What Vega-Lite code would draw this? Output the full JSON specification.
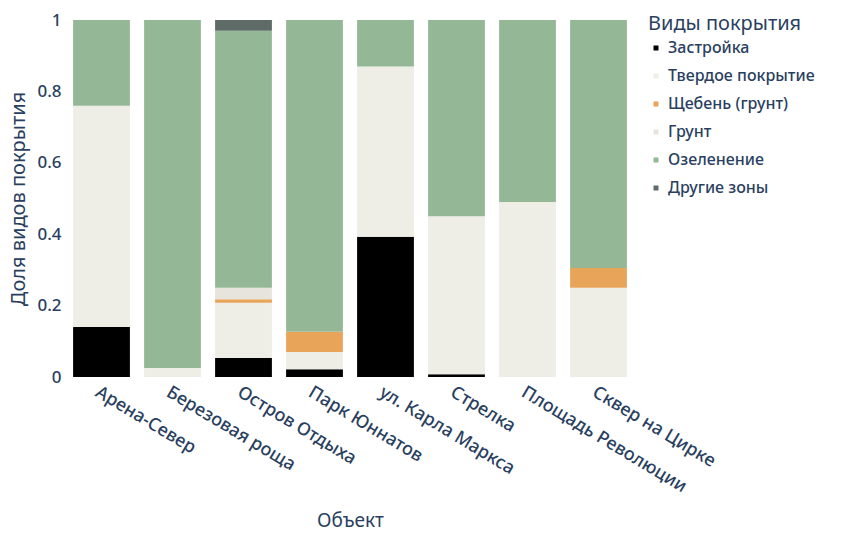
{
  "$schema": "https://vega.github.io/schema/vega-lite/v6.json",
  "width": 568,
  "height": 357,
  "autosize": {"type": "none"},
  "padding": {"left": 66, "top": 20, "right": 216, "bottom": 158},
  "background": "white",
  "data": {
    "values": [
      {"obj": "Арена-Север", "type": "Застройка", "share": 0.14},
      {"obj": "Арена-Север", "type": "Твердое покрытие", "share": 0.62},
      {"obj": "Арена-Север", "type": "Озеленение", "share": 0.24},
      {"obj": "Березовая роща", "type": "Твердое покрытие", "share": 0.025},
      {"obj": "Березовая роща", "type": "Озеленение", "share": 0.975},
      {"obj": "Остров Отдыха", "type": "Застройка", "share": 0.053},
      {"obj": "Остров Отдыха", "type": "Твердое покрытие", "share": 0.155},
      {"obj": "Остров Отдыха", "type": "Щебень (грунт)", "share": 0.01},
      {"obj": "Остров Отдыха", "type": "Грунт", "share": 0.032},
      {"obj": "Остров Отдыха", "type": "Озеленение", "share": 0.72},
      {"obj": "Остров Отдыха", "type": "Другие зоны", "share": 0.03},
      {"obj": "Парк Юннатов", "type": "Застройка", "share": 0.022},
      {"obj": "Парк Юннатов", "type": "Твердое покрытие", "share": 0.048},
      {"obj": "Парк Юннатов", "type": "Щебень (грунт)", "share": 0.057},
      {"obj": "Парк Юннатов", "type": "Озеленение", "share": 0.873},
      {"obj": "ул. Карла Маркса", "type": "Застройка", "share": 0.393},
      {"obj": "ул. Карла Маркса", "type": "Твердое покрытие", "share": 0.477},
      {"obj": "ул. Карла Маркса", "type": "Озеленение", "share": 0.13},
      {"obj": "Стрелка", "type": "Застройка", "share": 0.008},
      {"obj": "Стрелка", "type": "Твердое покрытие", "share": 0.442},
      {"obj": "Стрелка", "type": "Озеленение", "share": 0.55},
      {"obj": "Площадь Революции", "type": "Твердое покрытие", "share": 0.49},
      {"obj": "Площадь Революции", "type": "Озеленение", "share": 0.51},
      {"obj": "Сквер на Цирке", "type": "Твердое покрытие", "share": 0.25},
      {"obj": "Сквер на Цирке", "type": "Щебень (грунт)", "share": 0.055},
      {"obj": "Сквер на Цирке", "type": "Озеленение", "share": 0.695}
    ]
  },
  "transform": [
    {"calculate": "indexof(['Застройка', 'Твердое покрытие', 'Щебень (грунт)', 'Грунт', 'Озеленение', 'Другие зоны'], datum.type)", "as": "layer_order"}
  ],
  "config": {
    "view": {"stroke": null},
    "font": "Noto Sans",
    "axis": {
      "labelColor": "#2a3f5f",
      "titleColor": "#2a3f5f",
      "titleFontWeight": "normal",
      "labelFontWeight": 500,
      "grid": false,
      "domain": false,
      "ticks": false
    }
  },
  "mark": {"type": "bar"},
  "encoding": {
    "x": {
      "field": "obj",
      "type": "nominal",
      "sort": null,
      "title": "Объект",
      "scale": {"paddingInner": 0.2, "paddingOuter": 0.1},
      "axis": {"labelAngle": 31, "labelFontSize": 18, "labelLimit": 0, "titleFontSize": 19, "labelPadding": 6, "titlePadding": 16}
    },
    "y": {
      "field": "share",
      "type": "quantitative",
      "stack": "zero",
      "title": "Доля видов покрытия",
      "scale": {"domain": [0, 1]},
      "axis": {"format": "~g", "tickCount": 5, "labelFontSize": 17, "titleFontSize": 20, "labelPadding": 5, "titlePadding": 8}
    },
    "order": {"field": "layer_order", "type": "quantitative", "sort": "ascending"},
    "color": {
      "field": "type",
      "type": "nominal",
      "scale": {
        "domain": ["Застройка", "Твердое покрытие", "Щебень (грунт)", "Грунт", "Озеленение", "Другие зоны"],
        "range": ["#000000", "#eeeee6", "#e8a55a", "#e6e4dc", "#94b896", "#5f6b66"]
      },
      "legend": {
        "orient": "none",
        "legendX": 582,
        "legendY": -6,
        "title": "Виды покрытия",
        "titleFontSize": 20,
        "titleFontWeight": "normal",
        "titleColor": "#2a3f5f",
        "titlePadding": 6,
        "labelFontSize": 16,
        "labelFontWeight": 500,
        "labelColor": "#2a3f5f",
        "symbolType": "square",
        "symbolSize": 25,
        "symbolStrokeWidth": 0,
        "rowPadding": 12,
        "padding": 0
      }
    }
  }
}
